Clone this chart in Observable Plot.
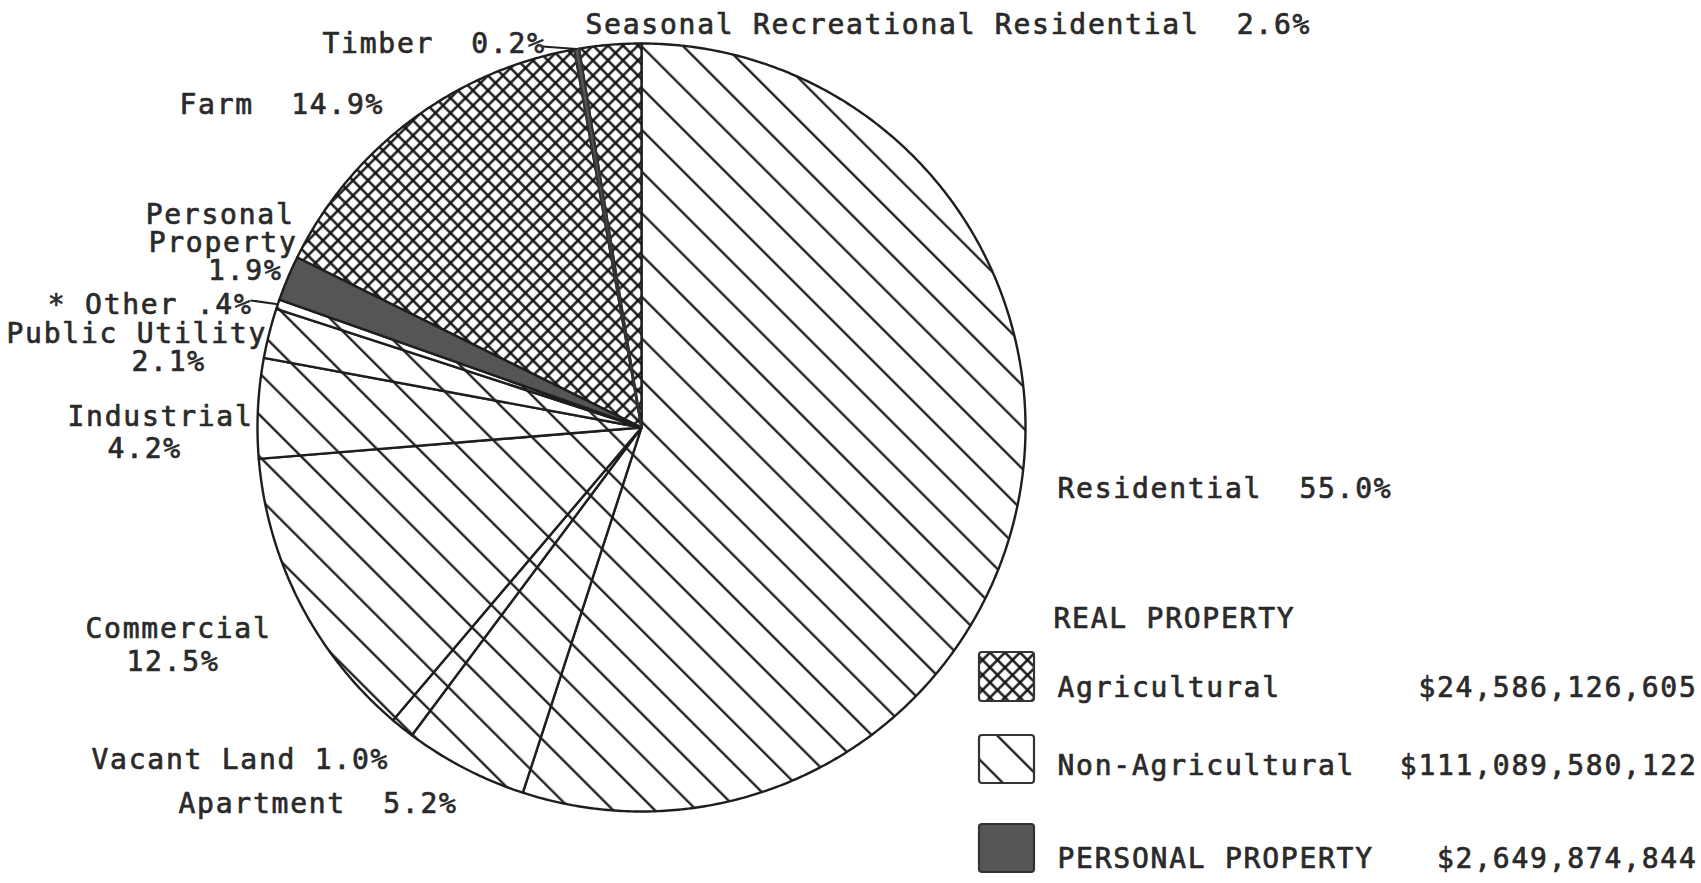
<!DOCTYPE html>
<html>
<head>
<meta charset="utf-8">
<script src="https://cdn.jsdelivr.net/npm/d3@7"></script>
<script src="https://cdn.jsdelivr.net/npm/@observablehq/plot@0.6"></script>
<style>
  html, body { margin: 0; padding: 0; background: #fff; }
  #chart { position: relative; width: 1701px; height: 883px; overflow: hidden; }
  #chart svg text { letter-spacing: 1.75px; }
</style>
</head>
<body>
<div id="chart"></div>
<script>
// ---------------- DATA ----------------
const categories = ["Residential", "Apartment", "Vacant Land", "Commercial", "Industrial",
  "Public Utility", "Other", "Personal Property", "Farm", "Timber",
  "Seasonal Recreational Residential"];
const percents = [55.0, 5.2, 1.0, 12.5, 4.2, 2.1, 0.4, 1.9, 14.9, 0.2, 2.6];
const classes = ["Non-Agricultural", "Non-Agricultural", "Non-Agricultural", "Non-Agricultural",
  "Non-Agricultural", "Non-Agricultural", "Non-Agricultural", "Personal",
  "Agricultural", "Agricultural", "Agricultural"];

const labelTexts = ["Seasonal Recreational Residential  2.6%", "Timber  0.2%", "Farm  14.9%",
  "Personal", "Property", "1.9%", "* Other .4%", "Public Utility", "2.1%",
  "Industrial", "4.2%", "Commercial", "12.5%", "Vacant Land 1.0%", "Apartment  5.2%",
  "Residential  55.0%"];

const legendHeading = "REAL PROPERTY";
const legendNames = ["Agricultural", "Non-Agricultural", "PERSONAL PROPERTY"];
const legendClasses = ["Agricultural", "Non-Agricultural", "Personal"];
const legendValues = ["$24,586,126,605", "$111,089,580,122", "$2,649,874,844"];

// categories that get a leader line from their label
const leaderCategories = ["Timber", "Other"];

// ---------------- LAYOUT ----------------
const W = 1701, H = 883;
const cx = 641, cy = 427, R = 384;
const toX = px => (px - cx) / R;
const toY = py => (cy - py) / R;

// label baseline positions in pixels and anchors
const labelLayout = [
  [585, 33, "start"], [322, 52, "start"], [179, 113, "start"],
  [294, 223, "end"], [297, 251, "end"], [282, 279, "end"],
  [252, 313, "end"], [6, 342, "start"], [131, 370, "start"],
  [67, 425, "start"], [107, 457, "start"], [85, 637, "start"],
  [126, 670, "start"], [91, 768, "start"], [178, 812, "start"],
  [1057, 497, "start"]
];
const leaderStarts = [[542, 46], [250, 300]];

const legendBoxes = [[979, 652, 55, 49], [979, 735, 55, 48], [979, 824, 55, 48]];
const legendTextY = [696, 774, 867];
const legendNameX = 1057, legendValueX = 1697, legendHeadingPos = [1053, 627];

const FONT = "DejaVu Sans Mono";
const FS = 28;
const INK = "#2a2a2a";

const fillFor = cls => cls === "Agricultural" ? "url(#crossAg)"
  : cls === "Non-Agricultural" ? "url(#hatchNA)" : "#555";
// slivers too thin for their pattern are inked solid, as the plotter did
const SLIVER = 0.3;

// ---------------- SLICE GEOMETRY ----------------
const rows = categories.map((name, i) => ({name, pct: percents[i], cls: classes[i]}));
const arcs = d3.pie().sort(null).value(d => d.pct).startAngle(0).endAngle(2 * Math.PI)(rows);

const slicePoints = [];
for (const a of arcs) {
  const name = a.data.name, cls = a.data.cls, sliver = a.data.pct < SLIVER;
  slicePoints.push({name, cls, sliver, x: 0, y: 0});
  const n = Math.max(2, Math.ceil((a.endAngle - a.startAngle) / (Math.PI / 360)));
  for (let k = 0; k <= n; k++) {
    const t = a.startAngle + (a.endAngle - a.startAngle) * k / n;
    slicePoints.push({name, cls, sliver, x: Math.sin(t), y: Math.cos(t)});
  }
  slicePoints.push({name, cls, sliver, x: 0, y: 0});
}

const labels = labelTexts.map((text, i) => ({
  text, x: toX(labelLayout[i][0]), y: toY(labelLayout[i][1]), anchor: labelLayout[i][2]
}));

const leaders = leaderCategories.map((c, i) => {
  const a = arcs.find(d => d.data.name === c);
  const m = (a.startAngle + a.endAngle) / 2;
  return {x1: toX(leaderStarts[i][0]), y1: toY(leaderStarts[i][1]), x2: Math.sin(m), y2: Math.cos(m)};
});

const legendRows = legendNames.map((name, i) => ({
  name, cls: legendClasses[i], value: legendValues[i],
  x1: toX(legendBoxes[i][0]), x2: toX(legendBoxes[i][0] + legendBoxes[i][2]),
  y1: toY(legendBoxes[i][1]), y2: toY(legendBoxes[i][1] + legendBoxes[i][3]),
  ty: toY(legendTextY[i])
}));

const textOpts = {fontFamily: FONT, fontSize: FS, fill: INK, stroke: INK, strokeWidth: 0.7, lineAnchor: "bottom"};

const marks = [];
for (const cls of ["Non-Agricultural", "Agricultural", "Personal"]) {
  marks.push(Plot.line(slicePoints.filter(d => d.cls === cls && !d.sliver), {
    x: "x", y: "y", z: "name", fill: fillFor(cls),
    stroke: "#1e1e1e", strokeWidth: 2.4, strokeLinejoin: "round"
  }));
}
marks.push(Plot.line(slicePoints.filter(d => d.sliver), {
  x: "x", y: "y", z: "name", fill: "#555",
  stroke: "#333", strokeWidth: 2, strokeLinejoin: "round"
}));
marks.push(Plot.link(leaders, {x1: "x1", y1: "y1", x2: "x2", y2: "y2", stroke: "#222", strokeWidth: 2.2}));
for (const anchor of ["start", "end"]) {
  marks.push(Plot.text(labels.filter(d => d.anchor === anchor), {
    x: "x", y: "y", text: "text", textAnchor: anchor, ...textOpts
  }));
}
for (const cls of legendClasses) {
  marks.push(Plot.rect(legendRows.filter(d => d.cls === cls), {
    x1: "x1", x2: "x2", y1: "y1", y2: "y2", fill: fillFor(cls),
    stroke: "#333", strokeWidth: 2.2, rx: 3
  }));
}
marks.push(Plot.text([legendHeading], {
  x: () => toX(legendHeadingPos[0]), y: () => toY(legendHeadingPos[1]),
  text: d => d, textAnchor: "start", ...textOpts
}));
marks.push(Plot.text(legendRows, {x: () => toX(legendNameX), y: "ty", text: "name", textAnchor: "start", ...textOpts}));
marks.push(Plot.text(legendRows, {x: () => toX(legendValueX), y: "ty", text: "value", textAnchor: "end", ...textOpts}));

const svg = Plot.plot({
  width: W, height: H, margin: 0,
  x: {domain: [-1, 1], range: [cx - R, cx + R], axis: null},
  y: {domain: [-1, 1], range: [cy + R, cy - R], axis: null},
  style: {background: "#fff", overflow: "visible"},
  marks
});

// patterns
const defs = d3.select(svg).insert("defs", ":first-child");
const hp = 41.7 / Math.SQRT2;
const hatch = defs.append("pattern").attr("id", "hatchNA").attr("patternUnits", "userSpaceOnUse")
  .attr("width", 10).attr("height", hp).attr("patternTransform", "rotate(45)");
hatch.append("rect").attr("width", 10).attr("height", hp).attr("fill", "#fff");
hatch.append("line").attr("x1", -1).attr("x2", 11).attr("y1", 21.35).attr("y2", 21.35)
  .attr("stroke", "#111").attr("stroke-width", 2.2);

const cs = 15 / Math.SQRT2;
const cross = defs.append("pattern").attr("id", "crossAg").attr("patternUnits", "userSpaceOnUse")
  .attr("width", cs).attr("height", cs).attr("patternTransform", "rotate(45)");
cross.append("rect").attr("width", cs).attr("height", cs).attr("fill", "#fff");
cross.append("line").attr("x1", -1).attr("x2", cs + 1).attr("y1", cs / 2).attr("y2", cs / 2)
  .attr("stroke", "#111").attr("stroke-width", 2.4);
cross.append("line").attr("y1", -1).attr("y2", cs + 1).attr("x1", cs / 2).attr("x2", cs / 2)
  .attr("stroke", "#111").attr("stroke-width", 2.4);

document.getElementById("chart").appendChild(svg);
</script>
</body>
</html>
